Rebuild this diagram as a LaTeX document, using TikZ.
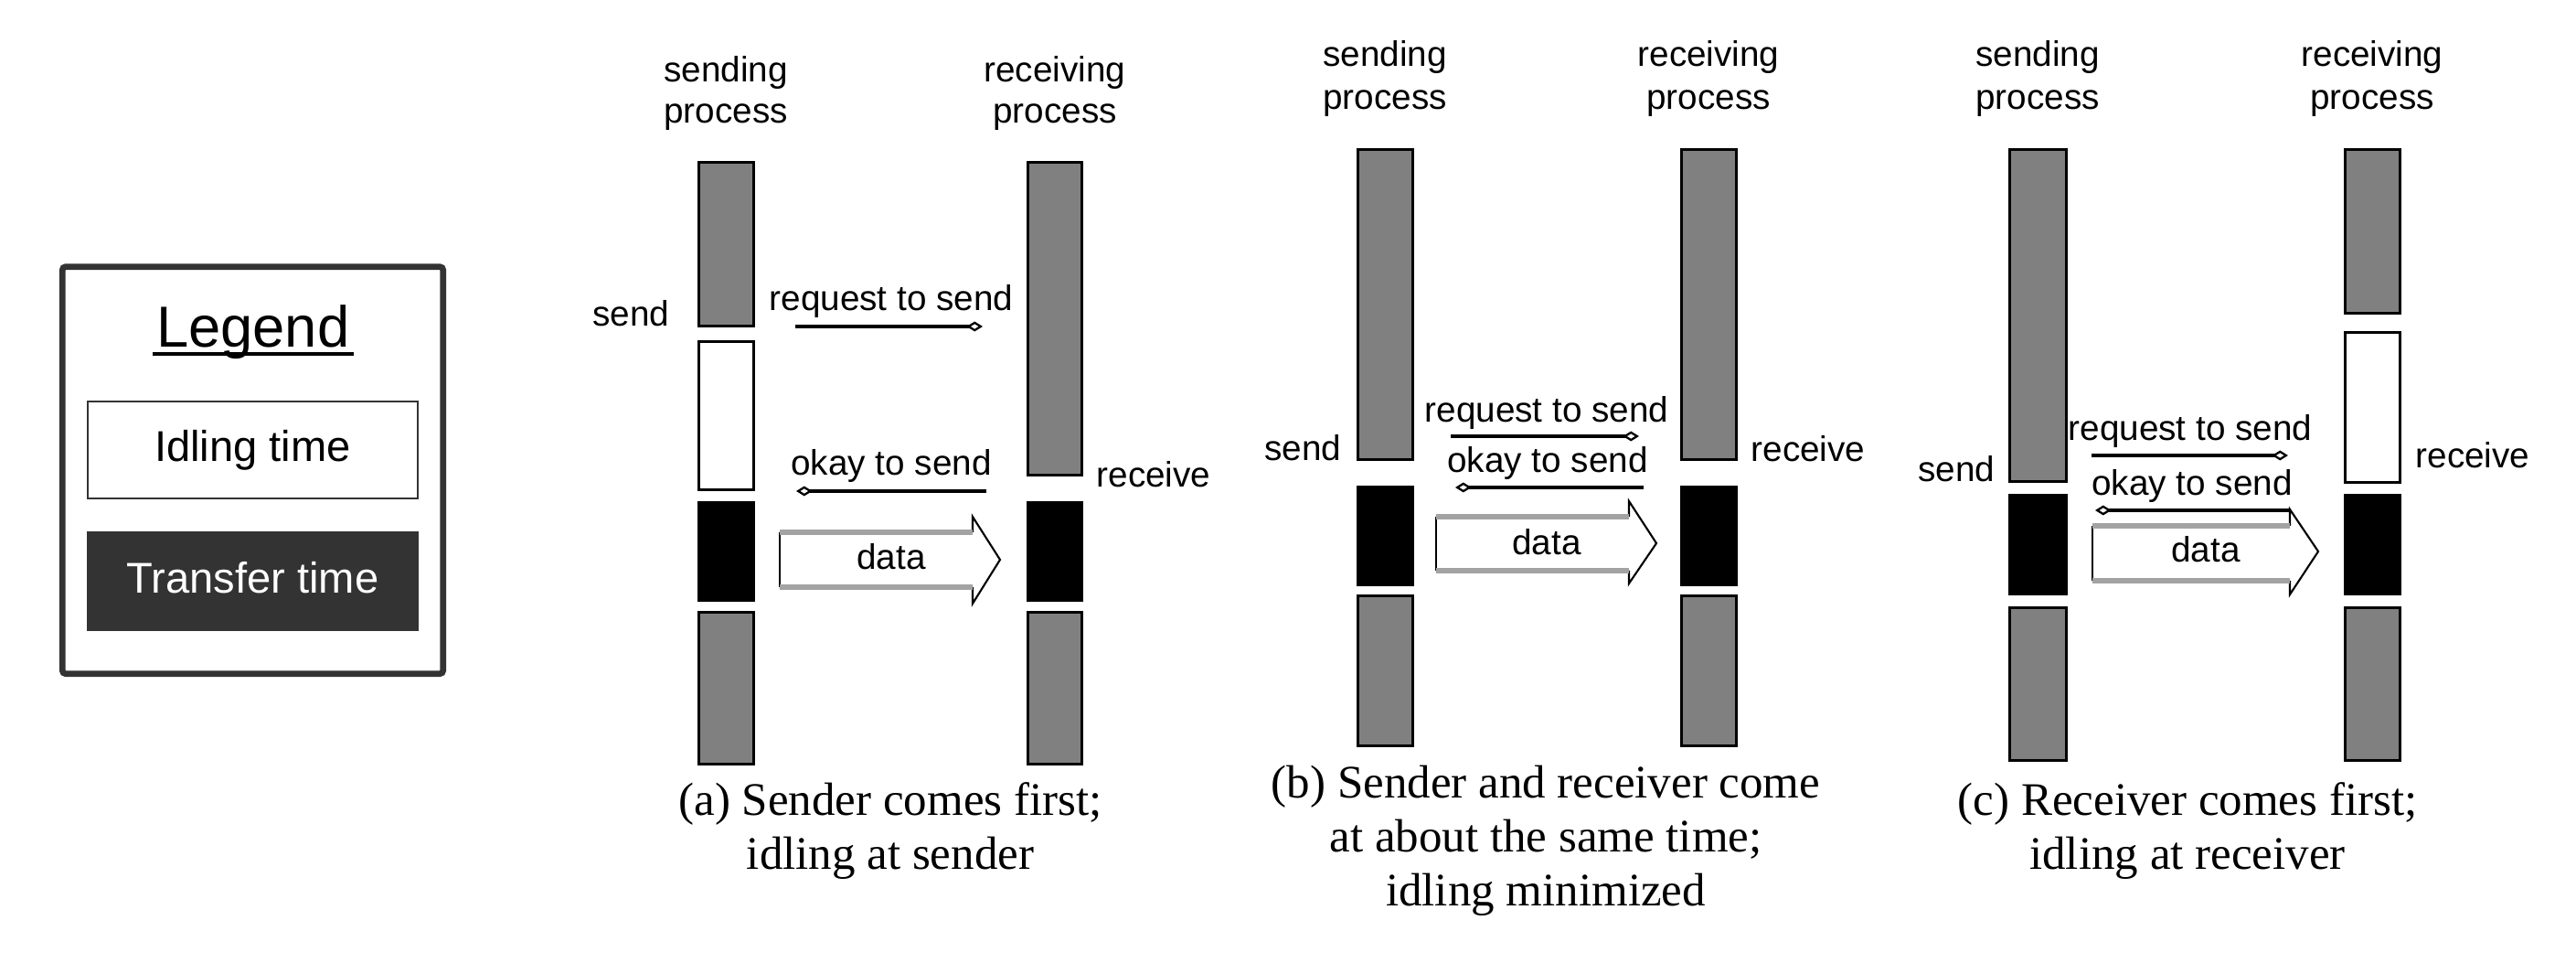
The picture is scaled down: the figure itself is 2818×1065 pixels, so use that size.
\documentclass[tikz,border=0pt]{standalone}
\usepackage{fontspec}
\setmainfont{Liberation Serif}
\setsansfont{Liberation Sans}
\usetikzlibrary{arrows.meta}

\definecolor{busygray}{HTML}{808080}
\definecolor{legdark}{HTML}{333333}
\definecolor{bandgray}{HTML}{A3A3A3}

\tikzset{
  busy/.style={draw=black, line width=0.9pt, fill=busygray},
  idle/.style={draw=black, line width=0.9pt, fill=white},
  xfer/.style={draw=black, line width=0.9pt, fill=black},
  lbl/.style={font=\sffamily\fontsize{11}{13.1}\selectfont, inner sep=0pt},
  hdr/.style={lbl, align=center},
  msg/.style={line width=1pt, -{Diamond[open, length=5pt, width=3.1pt, line width=0.65pt]}},
  dataout/.style={line width=0.6pt},
  databand/.style={draw=bandgray, line width=1.8pt},
  capt/.style={font=\fontsize{14.5}{16.8}\selectfont, align=center, inner sep=0pt},
  keybox/.style={inner sep=0pt, text height=0.72em, text depth=0pt,
    font=\sffamily\fontsize{13.4}{16}\selectfont},
}

\begin{document}
\begin{tikzpicture}[x=0.01cm, y=-0.01cm]
  \useasboundingbox (0,0) rectangle (2818,1065);

  % Legend
  \draw[legdark, line width=1.9pt, rounded corners=1pt] (68.3,291.7) rectangle (484.7,736.7);
  \node[inner sep=0pt, anchor=base, font=\sffamily\fontsize{18}{20}\selectfont] (legtitle) at (276.7,380) {Legend};
  \draw[line width=1.4pt] ([xshift=-1pt, yshift=-2pt]legtitle.base west) -- ([xshift=1pt, yshift=-2pt]legtitle.base east);
  \node[keybox, draw=legdark, line width=0.57pt, minimum width=3.607cm, minimum height=1.057cm] (idlekey) at (276.4,492.2) {Idling time};
  \node[keybox, fill=legdark, text=white, minimum width=3.63cm, minimum height=1.09cm] (xferkey) at (276.5,635.5) {Transfer time};

  % (a) sender comes first
  \draw[busy] (764.5,177.5) rectangle (824.5,356.5);
  \draw[idle] (764.5,373.5) rectangle (824.5,535.5);
  \draw[xfer] (764.5,549.5) rectangle (824.5,656.5);
  \draw[busy] (764.5,669.5) rectangle (824.5,835.5);
  \draw[busy] (1124.5,177.5) rectangle (1183.5,519.5);
  \draw[xfer] (1124.5,549.5) rectangle (1183.5,656.5);
  \draw[busy] (1124.5,669.5) rectangle (1183.5,835.5);
  \node[hdr, font=\sffamily\fontsize{11}{12.6}\selectfont] (a-snd) at (794,102) {sending\\process};
  \node[hdr, font=\sffamily\fontsize{11}{12.6}\selectfont] (a-rcv) at (1154,102) {receiving\\process};
  \node[lbl, anchor=base east] (a-send) at (733,357) {send};
  \node[lbl, anchor=base west] (a-recv) at (1199,533) {receive};
  \node[lbl, anchor=base] (a-req) at (975,340) {request to send};
  \node[lbl, anchor=base] (a-ok) at (975,520) {okay to send};
  \coordinate (a-rq0) at (870,357);
  \coordinate (a-rq1) at (1075,357);
  \coordinate (a-ok0) at (1079,537);
  \coordinate (a-ok1) at (871,537);
  \draw[msg] (a-rq0) -- (a-rq1);
  \draw[msg] (a-ok0) -- (a-ok1);
  \draw[dataout] (853,582) -- (853,642);
  \draw[dataout] (1064,582) -- (1064,565) -- (1094,612) -- (1064,660) -- (1064,642);
  \draw[databand] (853,582) -- (1064,582) (853,642) -- (1064,642);
  \node[lbl, anchor=base] (a-data) at (975,623) {data};
  \node[capt] (a-cap) at (974,909) {(a) Sender comes first;\\idling at sender};

  % (b) both come at about the same time
  \draw[busy] (1485.5,163.5) rectangle (1545.5,502.5);
  \draw[xfer] (1485.5,532.5) rectangle (1545.5,639.5);
  \draw[busy] (1485.5,651.5) rectangle (1545.5,815.5);
  \draw[busy] (1839.5,163.5) rectangle (1899.5,502.5);
  \draw[xfer] (1839.5,532.5) rectangle (1899.5,639.5);
  \draw[busy] (1839.5,651.5) rectangle (1899.5,815.5);
  \node[hdr] (b-snd) at (1515,86) {sending\\process};
  \node[hdr] (b-rcv) at (1869,86) {receiving\\process};
  \node[lbl, anchor=base east] (b-send) at (1468,504) {send};
  \node[lbl, anchor=base west] (b-recv) at (1915,505) {receive};
  \node[lbl, anchor=base] (b-req) at (1692,462) {request to send};
  \node[lbl, anchor=base] (b-ok) at (1693,517) {okay to send};
  \coordinate (b-rq0) at (1587,477);
  \coordinate (b-rq1) at (1793,477);
  \coordinate (b-ok0) at (1798,533);
  \coordinate (b-ok1) at (1592,533);
  \draw[msg] (b-rq0) -- (b-rq1);
  \draw[msg] (b-ok0) -- (b-ok1);
  \draw[dataout] (1571,565) -- (1571,624);
  \draw[dataout] (1782,565) -- (1782,548) -- (1812,594) -- (1782,638) -- (1782,624);
  \draw[databand] (1571,565) -- (1782,565) (1571,624) -- (1782,624);
  \node[lbl, anchor=base] (b-data) at (1692,607) {data};
  \node[capt] (b-cap) at (1691,919) {(b) Sender and receiver come\\at about the same time;\\idling minimized};

  % (c) receiver comes first
  \draw[busy] (2198.5,163.5) rectangle (2260.5,526.5);
  \draw[xfer] (2198.5,541.5) rectangle (2260.5,649.5);
  \draw[busy] (2198.5,664.5) rectangle (2260.5,831.5);
  \draw[busy] (2565.5,163.5) rectangle (2625.5,342.5);
  \draw[idle] (2565.5,363.5) rectangle (2625.5,527.5);
  \draw[xfer] (2565.5,541.5) rectangle (2625.5,649.5);
  \draw[busy] (2565.5,664.5) rectangle (2625.5,831.5);
  \node[hdr] (c-snd) at (2229,86) {sending\\process};
  \node[hdr] (c-rcv) at (2595,86) {receiving\\process};
  \node[lbl, anchor=base east] (c-send) at (2183,527) {send};
  \node[lbl, anchor=base west] (c-recv) at (2642,512) {receive};
  \node[lbl, anchor=base] (c-req) at (2396,482) {request to send};
  \node[lbl, anchor=base] (c-ok) at (2398,542) {okay to send};
  \coordinate (c-rq0) at (2288,498);
  \coordinate (c-rq1) at (2503,498);
  \coordinate (c-ok0) at (2505,558);
  \coordinate (c-ok1) at (2292,558);
  \draw[msg] (c-rq0) -- (c-rq1);
  \draw[msg] (c-ok0) -- (c-ok1);
  \draw[dataout] (2289,575) -- (2289,635);
  \draw[dataout] (2505,575) -- (2505,557) -- (2536,603) -- (2505,650) -- (2505,635);
  \draw[databand] (2289,575) -- (2505,575) (2289,635) -- (2505,635);
  \node[lbl, anchor=base] (c-data) at (2413,615) {data};
  \node[capt] (c-cap) at (2393,909) {(c) Receiver comes first;\\idling at receiver};
\end{tikzpicture}
\end{document}
